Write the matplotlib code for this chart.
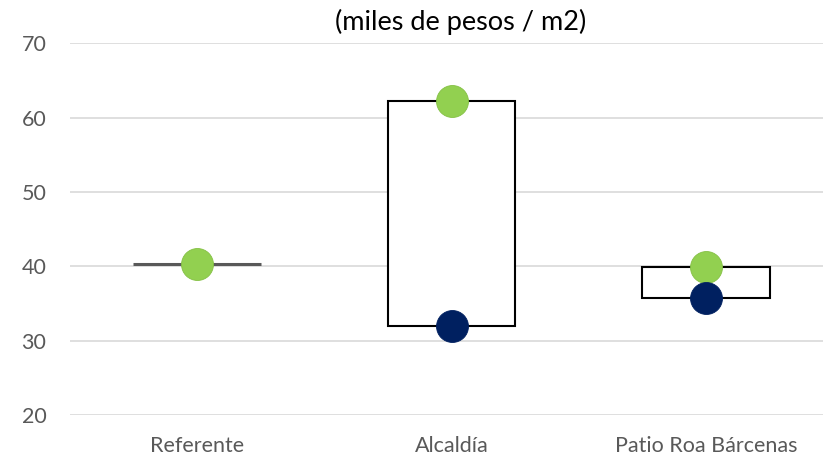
import matplotlib
matplotlib.use("Agg")
import matplotlib.pyplot as plt
from matplotlib.patches import Rectangle
import numpy as np

categories = ["Referente", "Alcaldía", "Patio Roa Bárcenas"]
high_values = [40.3, 62.2, 39.9]
low_values = [40.3, 32.0, 35.7]
green_points = [40.3, 62.2, 39.9]
navy_points = [np.nan, 32.0, 35.7]
y_ticks = [20, 30, 40, 50, 60, 70]

plt.rcParams["font.family"] = ["Lato", "DejaVu Sans"]

W, H, DPI = 823, 459, 100
fig = plt.figure(figsize=(W / DPI, H / DPI), dpi=DPI)
left_px = 70
ax = fig.add_axes([left_px / W, 1 - 415 / H, (W - left_px) / W, (415 - 43.3) / H])

step_px = 254.5
x0 = -(197 - left_px) / step_px
ax.set_xlim(x0, x0 + (W - left_px) / step_px)
ax.set_ylim(20, 70)

for y in y_ticks:
    ax.axhline(y, color="#D9D9D9", lw=1.2, zorder=0)

box_w = 0.5
x = np.arange(len(categories))
for xi, lo, hi in zip(x, low_values, high_values):
    if hi - lo < 1e-9:
        ax.plot([xi - box_w / 2, xi + box_w / 2], [hi, hi], color="#595959",
                lw=2.2, solid_capstyle="butt", zorder=2)
    else:
        ax.add_patch(Rectangle((xi - box_w / 2, lo), box_w, hi - lo,
                               facecolor="white", edgecolor="black", lw=1.5, zorder=2))

ax.plot(x, green_points, "o", ms=23, color="#92D050", mec="#84C044", mew=0.6,
        ls="none", zorder=3)
ax.plot(x, navy_points, "o", ms=23, color="#002060", mec="#002060", mew=0.6,
        ls="none", zorder=4)

ax.set_yticks(y_ticks)
ax.set_yticklabels([str(v) for v in y_ticks])
ax.set_xticks(x)
ax.set_xticklabels(categories)
ax.tick_params(axis="both", length=0, colors="#595959", labelsize=15.5)
ax.tick_params(axis="y", pad=17)
ax.tick_params(axis="x", pad=15)
for s in ax.spines.values():
    s.set_visible(False)

fig.text(461 / W, 1 - 22 / H, "(miles de pesos / m2)", ha="center", va="center",
         fontsize=19.5, color="black")

fig.savefig("out.png", dpi=DPI)
